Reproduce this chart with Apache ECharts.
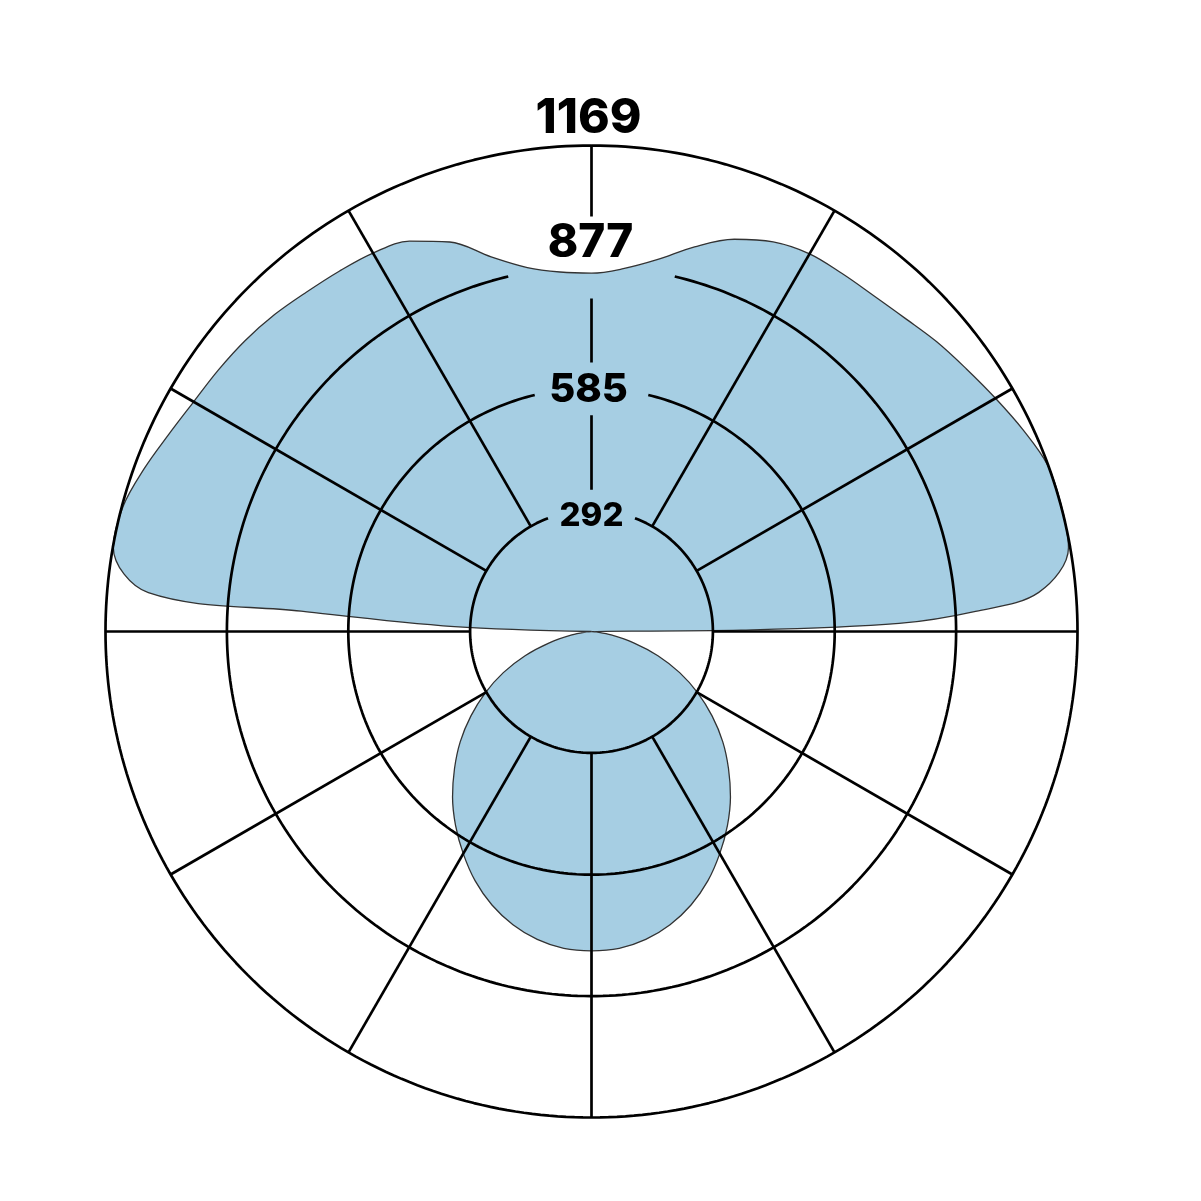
<!DOCTYPE html>
<html>
<head>
<meta charset="utf-8">
<script src="https://cdn.jsdelivr.net/npm/echarts@6/dist/echarts.min.js"></script>
<style>
html,body{margin:0;padding:0;background:#ffffff;}
#chart{width:1201px;height:1201px;}
</style>
</head>
<body>
<div id="chart"></div>
<script>
// ---- data (angle in degrees clockwise from top, value in cd) ----
const curveAngles = [
  270, 272, 274, 275, 280, 285, 290, 295, 300, 305, 310, 315, 320, 325, 330, 335, 340, 345, 350, 355,
  0, 5, 10, 15, 20, 25, 30, 35, 40, 45, 50, 55, 60, 65, 70, 75, 80, 85, 87, 88.5, 89.5, 90,
  95, 100, 105, 110, 115, 120, 125, 130, 135, 140, 145, 150, 155, 160, 165, 170, 175, 180,
  185, 190, 195, 200, 205, 210, 215, 220, 225, 230, 235, 240, 245, 250, 255, 260, 265, 270
];
const curveValues = [
  0, 330, 700, 1070, 1168, 1166, 1145, 1122, 1105, 1096, 1088, 1078, 1066, 1058, 1051, 1036, 997, 933, 889, 868,
  862, 876, 908, 958, 1004, 1034, 1049, 1051, 1055, 1066, 1084, 1101, 1122, 1146, 1168, 1170, 1165, 1080, 925, 740, 360, 0,
  12, 48, 105, 170, 234, 295, 354, 412, 466, 520, 570, 617, 662, 700, 730, 752, 765, 768,
  765, 752, 730, 700, 662, 617, 570, 520, 466, 412, 354, 295, 234, 170, 105, 48, 12, 0
];
const ringValues = [292, 585, 877, 1169];
const ringLabels = ['292', '585', '877', '1169'];
const spokeAngles = [30, 60, 90, 120, 150, 180, 210, 240, 270, 300, 330];
const outerValue = 1169;

// ---- styles / layout ----
const axisHeadroom = 1200;               // scale max a bit beyond the outer ring so its stroke is not clipped
const ringGapHalfAngle = [21, 13.5, 13.2, 0];
const topSpokeSegments = [[341, 520], [647, 801], [998, 1169]];
const labelFontSize = [33, 40, 46, 48];
const labelOffset = [[0, 5.5], [-3, 1.6], [-1, -23.4], [-3, -27]];
const gridColor = '#000000';
const gridWidth = 2.7;
const fillColor = '#a6cee3';
const outerRadiusPx = 486;

const series = [];

series.push({
  name: 'distribution',
  type: 'line',
  coordinateSystem: 'polar',
  smooth: 0.35,
  showSymbol: false,
  symbol: 'none',
  clip: false,
  z: 1,
  lineStyle: { color: '#333333', width: 1.3 },
  areaStyle: { color: fillColor, opacity: 1 },
  data: curveAngles.map((a, i) => [curveValues[i], a])
});

ringValues.forEach((rv, k) => {
  const g = ringGapHalfAngle[k];
  const pts = [];
  for (let a = g; a < 360 - g; a += 1) pts.push([rv, a]);
  pts.push([rv, 360 - g]);
  series.push({
    type: 'line', coordinateSystem: 'polar', symbol: 'none', showSymbol: false,
    smooth: false, clip: false, z: 3, silent: true,
    lineStyle: { color: gridColor, width: gridWidth },
    data: pts
  });
});

spokeAngles.forEach(a => {
  series.push({
    type: 'line', coordinateSystem: 'polar', symbol: 'none', showSymbol: false,
    clip: false, z: 3, silent: true,
    lineStyle: { color: gridColor, width: gridWidth },
    data: [[ringValues[0], a], [outerValue, a]]
  });
});

topSpokeSegments.forEach(seg => {
  series.push({
    type: 'line', coordinateSystem: 'polar', symbol: 'none', showSymbol: false,
    clip: false, z: 3, silent: true,
    lineStyle: { color: gridColor, width: gridWidth },
    data: [[seg[0], 0], [seg[1], 0]]
  });
});

series.push({
  type: 'scatter', coordinateSystem: 'polar', symbolSize: 1, z: 5, silent: true,
  itemStyle: { color: 'rgba(0,0,0,0)', opacity: 1 },
  data: ringValues.map((rv, k) => ({
    value: [rv, 0],
    label: {
      show: true,
      position: 'inside',
      formatter: ringLabels[k],
      fontFamily: 'Inter',
      fontWeight: 800,
      fontSize: labelFontSize[k],
      color: '#000000',
      opacity: 1,
      textBorderWidth: 0,
      offset: labelOffset[k],
      align: 'center',
      verticalAlign: 'middle'
    }
  }))
});

const chart = echarts.init(document.getElementById('chart'), null, { renderer: 'canvas' });
chart.setOption({
  animation: false,
  backgroundColor: '#ffffff',
  polar: { center: [591.5, 631.5], radius: outerRadiusPx * axisHeadroom / outerValue },
  angleAxis: {
    type: 'value', min: 0, max: 360, startAngle: 90, clockwise: true,
    axisLine: { show: false }, axisTick: { show: false }, axisLabel: { show: false }, splitLine: { show: false }
  },
  radiusAxis: {
    type: 'value', min: 0, max: axisHeadroom,
    axisLine: { show: false }, axisTick: { show: false }, axisLabel: { show: false }, splitLine: { show: false }
  },
  series: series
});
</script>
</body>
</html>
